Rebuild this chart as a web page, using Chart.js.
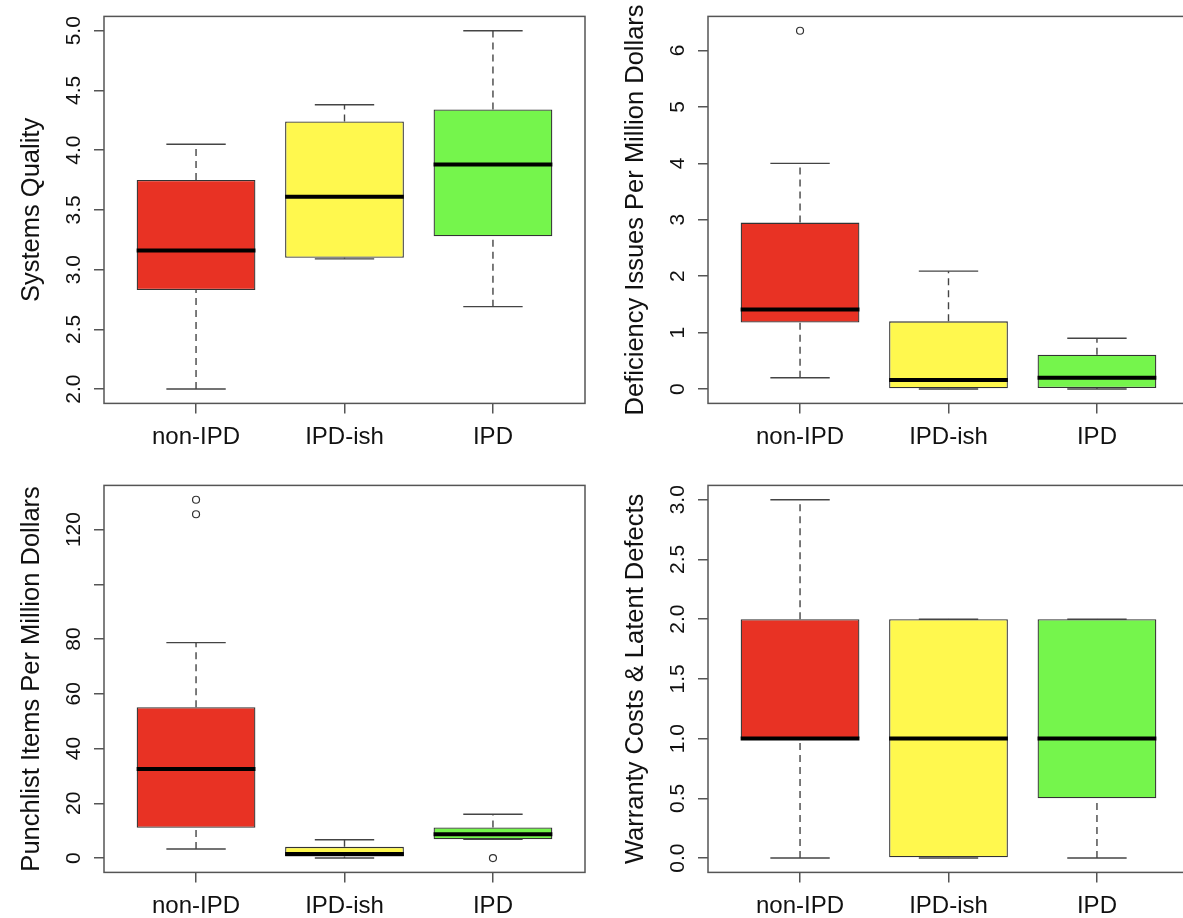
<!DOCTYPE html>
<html>
<head>
<meta charset="utf-8">
<script src="https://cdn.jsdelivr.net/npm/chart.js@4.4.1/dist/chart.umd.min.js"></script>
<style>
html, body { margin: 0; padding: 0; background: #fff; overflow: hidden; width: 1183px; height: 918px; }
canvas { position: absolute; }
</style>
</head>
<body>
<canvas id="quality" width="604" height="469" style="left:0;top:0"></canvas>
<canvas id="deficiency" width="604" height="469" style="left:604px;top:0"></canvas>
<canvas id="punchlist" width="604" height="469" style="left:0;top:469px"></canvas>
<canvas id="warranty" width="604" height="469" style="left:604px;top:469px"></canvas>
<script>
var categories = ["non-IPD", "IPD-ish", "IPD"];
var boxColors = ["#E83224", "#FFF84E", "#75F54C"];

// Systems Quality
var qualityLow  = [2.00, 3.09, 2.69];
var qualityQ1   = [2.83, 3.10, 3.28];
var qualityMed  = [3.16, 3.61, 3.88];
var qualityQ3   = [3.75, 4.24, 4.34];
var qualityHigh = [4.05, 4.38, 5.00];
var qualityOut  = [[], [], []];
var qualityTicks = [2.0, 2.5, 3.0, 3.5, 4.0, 4.5, 5.0];
var qualityTickLabels = ["2.0", "2.5", "3.0", "3.5", "4.0", "4.5", "5.0"];

// Deficiency issues per million dollars
var defLow  = [0.20, 0.00, 0.00];
var defQ1   = [1.18, 0.00, 0.02];
var defMed  = [1.41, 0.16, 0.20];
var defQ3   = [2.95, 1.20, 0.61];
var defHigh = [4.00, 2.09, 0.90];
var defOut  = [[6.35], [], []];
var defTicks = [0, 1, 2, 3, 4, 5, 6];
var defTickLabels = ["0", "1", "2", "3", "4", "5", "6"];

// Punchlist items per million dollars
var punchLow  = [3.3, 0.0, 6.9];
var punchQ1   = [11.1, 0.6, 6.9];
var punchMed  = [32.5, 1.5, 8.7];
var punchQ3   = [55.1, 4.1, 11.2];
var punchHigh = [78.7, 6.7, 16.0];
var punchOut  = [[125.6, 130.9], [], [0]];
var punchTicks = [0, 20, 40, 60, 80, 100, 120];
var punchTickLabels = ["0", "20", "40", "60", "80", "", "120"];

// Warranty costs & latent defects
var warLow  = [0, 0, 0];
var warQ1   = [1, 0, 0.5];
var warMed  = [1, 1, 1];
var warQ3   = [2, 2, 2];
var warHigh = [3, 2, 2];
var warOut  = [[], [], []];
var warTicks = [0.0, 0.5, 1.0, 1.5, 2.0, 2.5, 3.0];
var warTickLabels = ["0.0", "0.5", "1.0", "1.5", "2.0", "2.5", "3.0"];

Chart.defaults.font.family = '"Liberation Sans", Arial, sans-serif';
Chart.defaults.color = "#111";

var fontFamily = Chart.defaults.font.family;
var measureCtx = document.createElement("canvas").getContext("2d");

// box round the plot area, like R's bty="o"
var framePlugin = {
    id: "frame",
    afterLayout: function (chart) {
        // let the long y titles run past the plot height
        chart.scales.y.top -= 20;
        chart.scales.y.bottom += 20;
    },
    afterDatasetsDraw: function (chart) {
        var a = chart.chartArea;
        var ctx = chart.ctx;
        ctx.save();
        ctx.strokeStyle = "#555";
        ctx.lineWidth = 1.5;
        ctx.strokeRect(a.left, a.top, a.right - a.left, a.bottom - a.top);
        ctx.restore();
    }
};

function boxplot(id, title, low, q1, med, q3, high, outliers, ticks, tickLabels) {
    var all = low.concat(high, outliers.flat());
    var dMin = Math.min.apply(null, all);
    var dMax = Math.max.apply(null, all);
    var ext = (dMax - dMin) * 0.04;

    measureCtx.font = "21px " + fontFamily;
    var widest = Math.max.apply(null, tickLabels.map(function (t) { return measureCtx.measureText(t).width; }));

    var datasets = [{
        type: "bar",
        data: categories.map(function (c, i) { return { x: i + 1, y: [q1[i], q3[i]] }; }),
        backgroundColor: boxColors,
        borderColor: "#333",
        borderWidth: 1.3,
        borderSkipped: false,
        barPercentage: 0.8,
        categoryPercentage: 1,
        order: 2
    }];

    function segment(points, extra) {
        datasets.push(Object.assign({
            type: "line",
            data: points,
            pointRadius: 0,
            borderColor: "#444",
            borderWidth: 1.4,
            fill: false,
            order: 1
        }, extra));
    }

    categories.forEach(function (c, i) {
        var x = i + 1;
        segment([{ x: x, y: q3[i] }, { x: x, y: high[i] }], { borderDash: [7, 5] });
        segment([{ x: x, y: low[i] }, { x: x, y: q1[i] }], { borderDash: [7, 5] });
        segment([{ x: x - 0.2, y: high[i] }, { x: x + 0.2, y: high[i] }], {});
        segment([{ x: x - 0.2, y: low[i] }, { x: x + 0.2, y: low[i] }], {});
        segment([{ x: x - 0.4, y: med[i] }, { x: x + 0.4, y: med[i] }], { borderColor: "#000", borderWidth: 4, order: 0 });
    });

    datasets.push({
        type: "scatter",
        data: outliers.flatMap(function (o, i) { return o.map(function (v) { return { x: i + 1, y: v }; }); }),
        pointStyle: "circle",
        pointRadius: 3.5,
        backgroundColor: "rgba(0,0,0,0)",
        borderColor: "#333",
        borderWidth: 1.2,
        order: 0
    });

    return new Chart(document.getElementById(id), {
        type: "bar",
        data: { datasets: datasets },
        options: {
            responsive: false,
            animation: false,
            events: [],
            layout: { padding: { top: 16.4, right: 19, left: 0, bottom: 0 } },
            plugins: { legend: { display: false }, tooltip: { enabled: false } },
            scales: {
                x: {
                    type: "linear",
                    min: 0.38,
                    max: 3.62,
                    offset: false,
                    afterBuildTicks: function (s) { s.ticks = categories.map(function (c, i) { return { value: i + 1 }; }); },
                    afterFit: function (s) { s.height = 65.6; s.paddingLeft = 0; s.paddingRight = 0; },
                    ticks: {
                        callback: function (v) { return categories[v - 1]; },
                        font: { size: 24 },
                        color: "#111",
                        padding: 10,
                        maxRotation: 0,
                        autoSkip: false
                    },
                    grid: { offset: false, drawOnChartArea: false, drawTicks: true, tickLength: 10, color: "#555", lineWidth: 1.5 },
                    border: { display: false }
                },
                y: {
                    type: "linear",
                    min: dMin - ext,
                    max: dMax + ext,
                    afterBuildTicks: function (s) { s.ticks = ticks.map(function (v) { return { value: v }; }); },
                    afterFit: function (s) { s.width = 104; s.paddingTop = 0; s.paddingBottom = 0; },
                    ticks: {
                        callback: function (v, i) { return tickLabels[i]; },
                        font: { size: 21 },
                        color: "#111",
                        minRotation: 90,
                        maxRotation: 90,
                        crossAlign: "center",
                        padding: 20 - widest / 2,
                        autoSkip: false
                    },
                    grid: { drawOnChartArea: false, drawTicks: true, tickLength: 10, color: "#555", lineWidth: 1.5 },
                    border: { display: false },
                    title: {
                        display: true,
                        text: title,
                        font: { size: 25.5 },
                        color: "#111",
                        padding: { top: 17, bottom: 0 }
                    }
                }
            }
        },
        plugins: [framePlugin]
    });
}

boxplot("quality", "Systems Quality", qualityLow, qualityQ1, qualityMed, qualityQ3, qualityHigh, qualityOut, qualityTicks, qualityTickLabels);
boxplot("deficiency", "Deficiency Issues Per Million Dollars", defLow, defQ1, defMed, defQ3, defHigh, defOut, defTicks, defTickLabels);
boxplot("punchlist", "Punchlist Items Per Million Dollars", punchLow, punchQ1, punchMed, punchQ3, punchHigh, punchOut, punchTicks, punchTickLabels);
boxplot("warranty", "Warranty Costs & Latent Defects", warLow, warQ1, warMed, warQ3, warHigh, warOut, warTicks, warTickLabels);
</script>
</body>
</html>
